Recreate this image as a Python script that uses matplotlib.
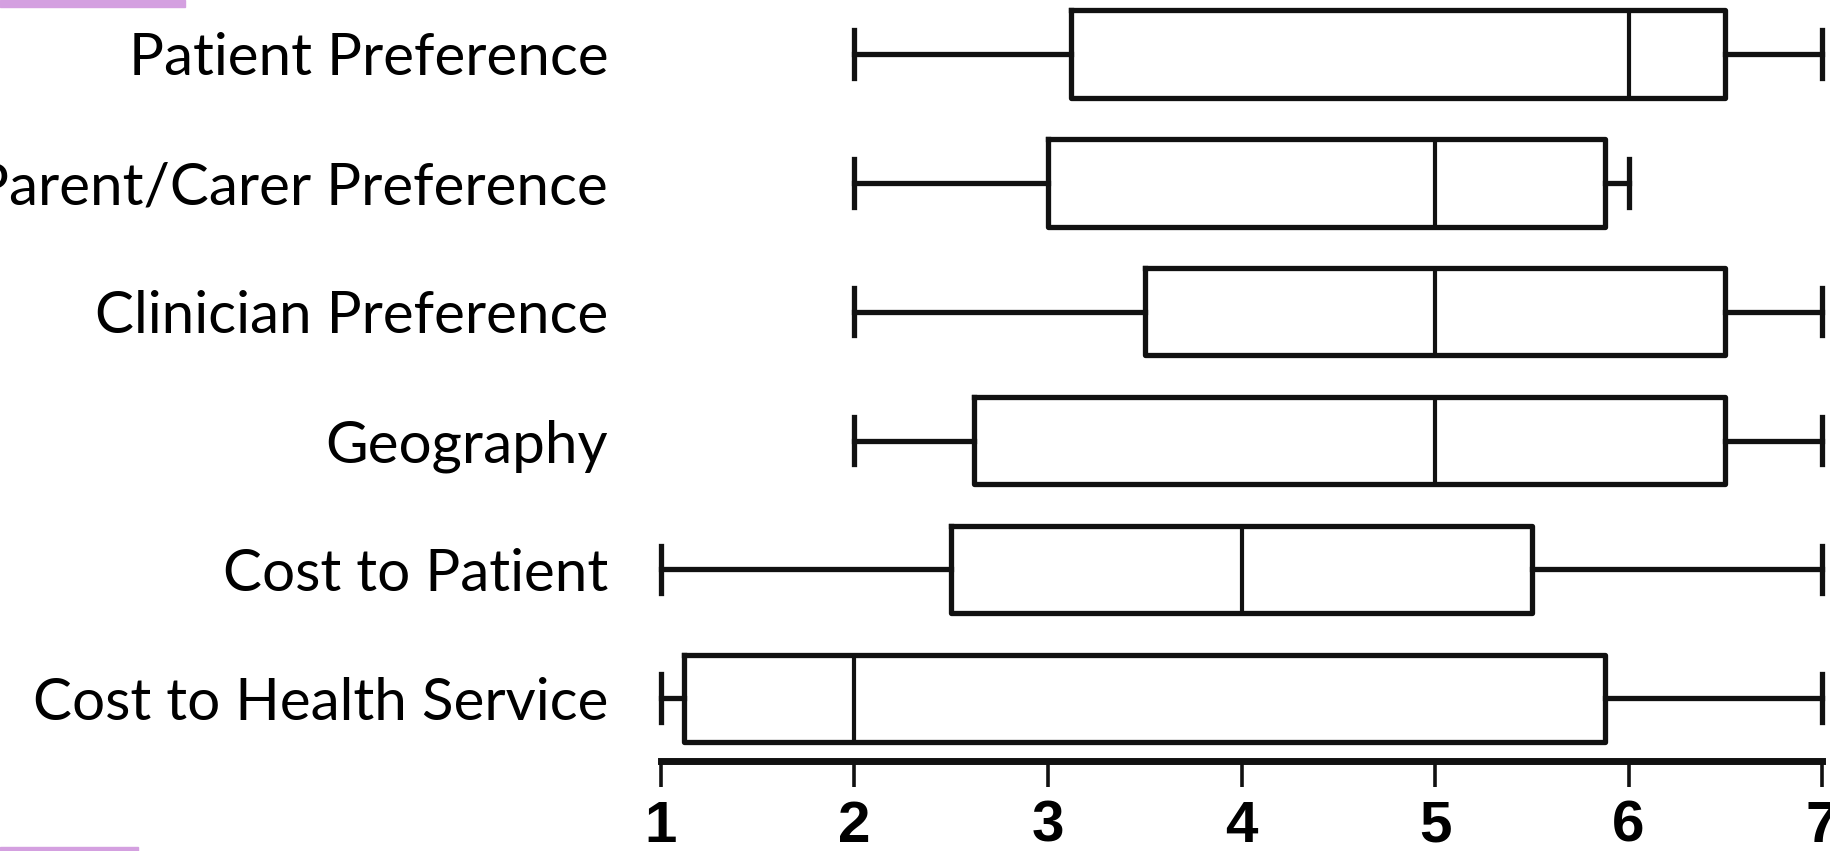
import matplotlib.pyplot as plt
from matplotlib.patches import Rectangle

labels = ['Patient Preference', 'Parent/Carer Preference', 'Clinician Preference',
          'Geography', 'Cost to Patient', 'Cost to Health Service']
whislo = [2, 2, 2, 2, 1, 1]
q1 = [3.12, 3.0, 3.5, 2.62, 2.5, 1.12]
med = [6, 5, 5, 5, 4, 2]
q3 = [6.5, 5.88, 6.5, 6.5, 5.5, 5.88]
whishi = [7, 6, 7, 7, 7, 7]
xticks = [1, 2, 3, 4, 5, 6, 7]

W, H = 1831, 851
fig = plt.figure(figsize=(W / 100, H / 100), dpi=100)
# axes placed so that x=1..7 spans the plotting area and the spine sits near the bottom
ax = fig.add_axes([661 / W, 1 - 761 / H, (1822 - 661) / W, 761 / H])

stats = []
for i in range(len(labels)):
    stats.append(dict(label=labels[i], whislo=whislo[i], q1=q1[i], med=med[i],
                      q3=q3[i], whishi=whishi[i], fliers=[]))

lw = 3.8
ax.bxp(stats, positions=range(len(labels)), vert=False, widths=0.68,
       capwidths=0.37, showfliers=False,
       boxprops=dict(color='#111111', linewidth=lw),
       medianprops=dict(color='#111111', linewidth=3.0),
       whiskerprops=dict(color='#111111', linewidth=lw),
       capprops=dict(color='#111111', linewidth=lw))

ax.set_ylim(5.486, -0.417)
ax.set_xlim(1, 7)
ax.set_xticks(xticks)
ax.set_xticklabels([str(t) for t in xticks], fontsize=42, fontweight='bold',
                   family=['Liberation Sans', 'DejaVu Sans'])
ax.set_yticks(range(len(labels)))
ax.set_yticklabels(labels, fontsize=42, family=['Lato', 'DejaVu Sans'])
ax.tick_params(axis='y', length=0, pad=38)
ax.tick_params(axis='x', length=19, width=2.6, direction='out', pad=9, color='#111111')
for s in ['top', 'right', 'left']:
    ax.spines[s].set_visible(False)
ax.spines['bottom'].set_linewidth(5)
ax.spines['bottom'].set_color('#111111')
ax.spines['bottom'].set_bounds(1, 7)
for artist in ax.lines:
    artist.set_clip_on(False)

# purple bars at the left edges
fig.patches.append(Rectangle((0, 1 - 7 / H), 185 / W, 7 / H, transform=fig.transFigure,
                             color='#d4a0e0', zorder=0))
fig.patches.append(Rectangle((0, 0), 138 / W, 4 / H, transform=fig.transFigure,
                             color='#d4a0e0', zorder=0))

fig.savefig('out.png', dpi=100)
